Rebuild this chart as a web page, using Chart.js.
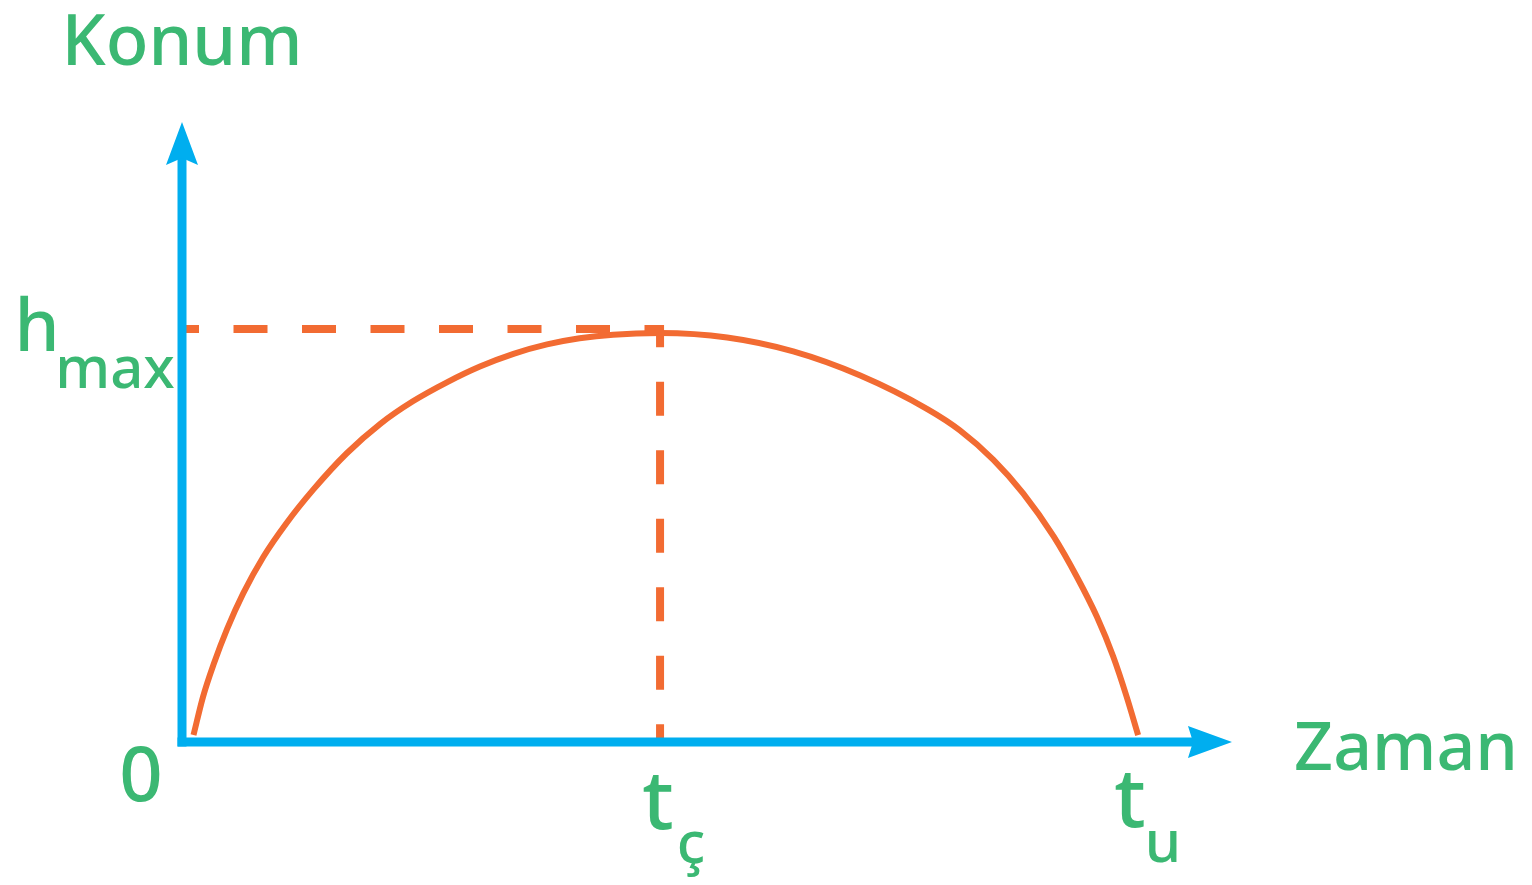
<!DOCTYPE html>
<html lang="tr">
<head>
<meta charset="utf-8">
<title>Konum - Zaman</title>
<script src="https://cdn.jsdelivr.net/npm/chart.js@4.4.1/dist/chart.umd.min.js"></script>
<style>
  html, body { margin: 0; padding: 0; background: #ffffff; }
  #wrap { width: 1532px; height: 885px; }
</style>
</head>
<body>
<div id="wrap"><canvas id="grafik" width="1532" height="885"></canvas></div>
<script>
// Dikey atış: konum - zaman grafiği
const zaman = [0.12, 0.22, 0.33, 0.47, 0.64, 0.85, 1.09, 1.37, 1.72, 2.07, 2.41, 2.77, 3.11, 3.46, 3.81, 4.15, 4.50, 4.99,
               5.69, 6.38, 7.08, 7.78, 8.12, 8.47, 8.78, 9.10, 9.34, 9.55, 9.72, 9.86, 9.98];
const konum = [0.17, 1.11, 1.90, 2.76, 3.64, 4.53, 5.35, 6.17, 7.06, 7.78, 8.33, 8.80, 9.18, 9.49, 9.72, 9.87, 9.96, 10.0,
               9.89, 9.55, 8.96, 8.14, 7.62, 6.90, 6.08, 5.02, 4.04, 3.06, 2.09, 1.11, 0.17];

// işaretli anlar ve en büyük yükseklik
const tCikis = 4.99;   // t_ç
const tUcus = 10.0;    // t_u
const hMax = 10.1;

// eksen uçları (ok başları)
const xEksenSonu = 10.96;
const yEksenSonu = 15.16;

const yesil = '#3bb873';
const mavi = '#00aeef';
const turuncu = '#f26b32';
const yazi = '"Noto Sans", "DejaVu Sans", sans-serif';

const egri = zaman.map((t, i) => ({ x: t, y: konum[i] }));
const kesikCizgi = [
  { x: 0, y: hMax },
  { x: tCikis, y: hMax },
  { x: tCikis, y: 0 }
];

const eksenler = {
  id: 'eksenler',
  afterDatasetsDraw(chart) {
    const { ctx, scales: { x, y } } = chart;
    const x0 = x.getPixelForValue(0);
    const y0 = y.getPixelForValue(0);
    const xUc = x.getPixelForValue(xEksenSonu);
    const yUc = y.getPixelForValue(yEksenSonu);
    const w = 9;
    ctx.save();
    ctx.fillStyle = mavi;
    // dikey eksen
    ctx.fillRect(x0 - w / 2, yUc + 36, w, y0 + w / 2 - (yUc + 36));
    // yatay eksen
    ctx.fillRect(x0 - w / 2, y0 - w / 2, xUc - 39 - (x0 - w / 2), w);
    // yukarı ok
    ctx.beginPath();
    ctx.moveTo(x0, yUc);
    ctx.lineTo(x0 + 16, yUc + 43);
    ctx.lineTo(x0, yUc + 36);
    ctx.lineTo(x0 - 16, yUc + 43);
    ctx.closePath();
    ctx.fill();
    // sağa ok
    ctx.beginPath();
    ctx.moveTo(xUc, y0);
    ctx.lineTo(xUc - 44, y0 + 16);
    ctx.lineTo(xUc - 39, y0);
    ctx.lineTo(xUc - 44, y0 - 16);
    ctx.closePath();
    ctx.fill();
    ctx.restore();
  },
  afterDraw(chart) {
    const { ctx, scales: { x, y } } = chart;
    const x0 = x.getPixelForValue(0);
    const y0 = y.getPixelForValue(0);
    const yh = y.getPixelForValue(hMax);
    const xc = x.getPixelForValue(tCikis);
    const xu = x.getPixelForValue(tUcus);
    ctx.save();
    ctx.fillStyle = yesil;
    ctx.textBaseline = 'alphabetic';
    ctx.textAlign = 'center';
    const yaz = (s, px, py, size) => {
      ctx.font = '500 ' + size + 'px ' + yazi;
      ctx.fillText(s, px, py);
    };
    yaz('Konum', x0, 65, 70);
    yaz('Zaman', xu + 266, y0 + 28, 68);
    yaz('h', x0 - 145, yh + 22, 72);
    yaz('max', x0 - 67, yh + 59, 58);
    yaz('0', x0 - 41, y0 + 59, 76);
    yaz('t', xc - 2, y0 + 87, 82);
    yaz('ç', xc + 31, y0 + 121, 58);
    yaz('t', xu - 10, y0 + 85, 82);
    yaz('u', xu + 23, y0 + 120, 58);
    ctx.restore();
  }
};

new Chart(document.getElementById('grafik'), {
  type: 'scatter',
  data: {
    datasets: [
      {
        label: 'kesik',
        data: kesikCizgi,
        showLine: true,
        borderColor: turuncu,
        borderWidth: 8,
        borderDash: [34, 34.5],
        borderDashOffset: 17,
        borderCapStyle: 'butt',
        pointRadius: 0,
        tension: 0,
        clip: false
      },
      {
        label: 'Konum',
        data: egri,
        showLine: true,
        borderColor: turuncu,
        borderWidth: 6,
        pointRadius: 0,
        cubicInterpolationMode: 'monotone',
        clip: false
      }
    ]
  },
  options: {
    responsive: false,
    animation: false,
    devicePixelRatio: 1,
    layout: { padding: { left: 86.2, right: 300 - 95.8 * 0.04, top: 87.6, bottom: 102.1 } },
    scales: {
      x: { type: 'linear', min: -1, max: 11, display: false },
      y: { type: 'linear', min: -1, max: 16, display: false }
    },
    plugins: {
      legend: { display: false },
      tooltip: { enabled: false }
    }
  },
  plugins: [eksenler]
});
</script>
</body>
</html>
